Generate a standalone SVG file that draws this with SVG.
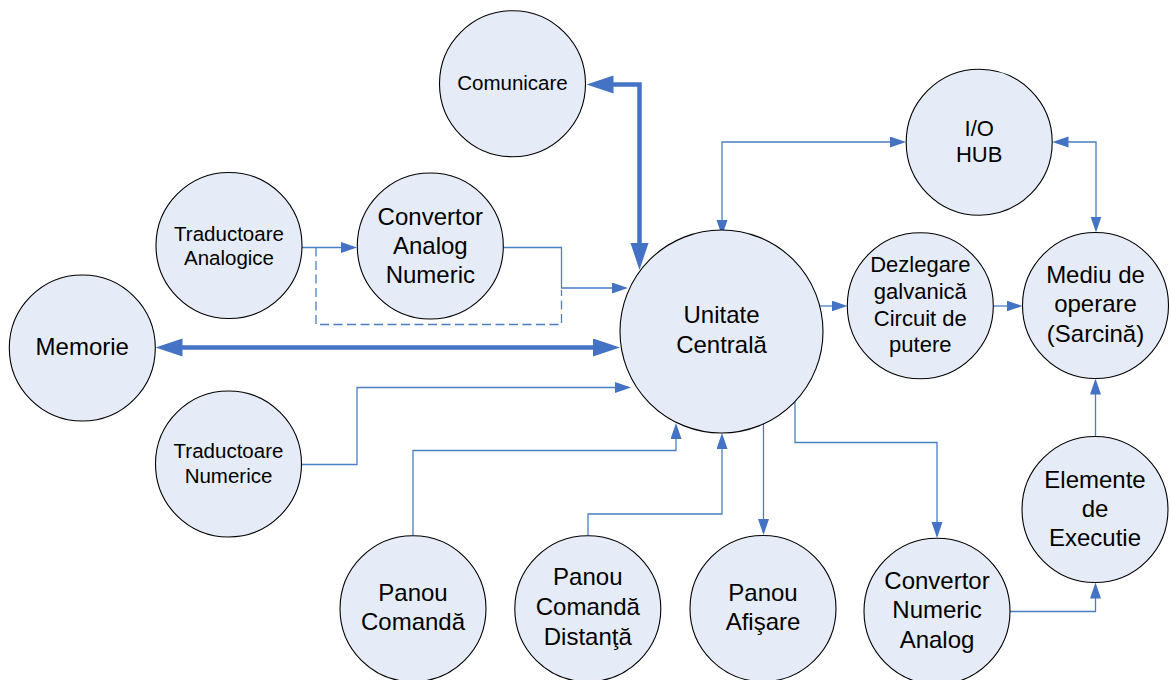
<svg xmlns="http://www.w3.org/2000/svg" width="1171" height="680" viewBox="0 0 1171 680">
  <style>
    .node circle { fill: #e6ecf7; stroke: #000; stroke-width: 1.1; }
    .node text { font-family: "Liberation Sans", Arial, sans-serif; fill: #000; text-anchor: middle; }
    .lg { font-size: 24px; }
    .md { font-size: 22px; }
    .sm { font-size: 20.5px; }
    .wire { fill: none; stroke: #4a7ec2; stroke-width: 1.3; }
    .thin { marker-end: url(#ah); }
    .both { marker-start: url(#ah); marker-end: url(#ah); }
    .bus { fill: none; stroke: #4472c4; stroke-width: 4.5; marker-start: url(#ahb); marker-end: url(#ahb); }
    .dash { stroke-dasharray: 9 4.5; }
  </style>
  <defs>
    <marker id="ah" markerUnits="userSpaceOnUse" markerWidth="16" markerHeight="12" refX="13" refY="5.5" orient="auto-start-reverse">
      <path d="M0,0 L16,5.5 L0,11 z" fill="#4472c4"/>
    </marker>
    <marker id="ahb" markerUnits="userSpaceOnUse" markerWidth="28" markerHeight="19" refX="17" refY="9" orient="auto-start-reverse">
      <path d="M0,0 L27,9 L0,18 z" fill="#4472c4"/>
    </marker>
  </defs>

  <rect width="1171" height="680" fill="#fff"/>

  <g id="connectors">
    <!-- data buses -->
    <path class="bus" d="M596.5,84.5 H639.5 V260"/>
    <path class="bus" d="M165.5,347.5 H610"/>
    <!-- signal lines -->
    <path class="wire thin" d="M302,247.5 H354"/>
    <path class="wire thin" d="M503.5,247.5 H561.5 V288 H625"/>
    <path class="wire dash" d="M316,247.5 V324.5 H561.5 V290"/>
    <path class="wire thin" d="M301.5,464.5 H357 V387.5 H628"/>
    <path class="wire thin" d="M413,535.5 V450.5 H676 V426"/>
    <path class="wire thin" d="M588,535.5 V514 H722 V436"/>
    <path class="wire thin" d="M763.5,424 V532"/>
    <path class="wire thin" d="M795,402 V442.5 H937 V535"/>
    <path class="wire thin" d="M1010,611.5 H1095.5 V585.5"/>
    <path class="wire thin" d="M1095.5,436.5 V381.5"/>
    <path class="wire thin" d="M993.5,306 H1019.5"/>
    <path class="wire thin" d="M820,306 H844.5"/>
    <path class="wire both" d="M722,233 V142 H903"/>
    <path class="wire both" d="M1055.5,142 H1096 V229.5"/>
  </g>

  <g id="comunicare" class="node">
    <circle cx="512.5" cy="83.7" r="73"/>
    <text class="sm" x="512.5" y="90">Comunicare</text>
  </g>
  <g id="traductoare-analogice" class="node">
    <circle cx="229" cy="245.5" r="73"/>
    <text class="sm" x="229" y="241">Traductoare</text>
    <text class="sm" x="229" y="265">Analogice</text>
  </g>
  <g id="convertor-an" class="node">
    <circle cx="430.3" cy="246" r="73"/>
    <text class="lg" x="430.3" y="225">Convertor</text>
    <text class="lg" x="430.3" y="254">Analog</text>
    <text class="lg" x="430.3" y="283">Numeric</text>
  </g>
  <g id="memorie" class="node">
    <circle cx="82.3" cy="348" r="73"/>
    <text class="lg" x="82.3" y="355">Memorie</text>
  </g>
  <g id="traductoare-numerice" class="node">
    <circle cx="228.5" cy="464" r="73"/>
    <text class="sm" x="228.5" y="458">Traductoare</text>
    <text class="sm" x="228.5" y="483">Numerice</text>
  </g>
  <g id="unitate-centrala" class="node">
    <circle cx="721.5" cy="331.5" r="101.5"/>
    <text class="lg" x="721.5" y="323">Unitate</text>
    <text class="lg" x="721.5" y="353">Centrală</text>
  </g>
  <g id="io-hub" class="node">
    <circle cx="979.2" cy="142.2" r="73"/>
    <text class="md" x="979.2" y="136">I/O</text>
    <text class="md" x="979.2" y="162">HUB</text>
  </g>
  <g id="dezlegare" class="node">
    <circle cx="920.3" cy="305.8" r="73"/>
    <text class="md" x="920.3" y="272">Dezlegare</text>
    <text class="md" x="920.3" y="298.5">galvanică</text>
    <text class="md" x="920.3" y="326">Circuit de</text>
    <text class="md" x="920.3" y="352">putere</text>
  </g>
  <g id="mediu-operare" class="node">
    <circle cx="1095.5" cy="305.5" r="73"/>
    <text class="lg" x="1095.5" y="283">Mediu de</text>
    <text class="lg" x="1095.5" y="312">operare</text>
    <text class="lg" x="1095.5" y="342">(Sarcină)</text>
  </g>
  <g id="elemente-executie" class="node">
    <circle cx="1095" cy="509.5" r="73"/>
    <text class="lg" x="1095" y="488">Elemente</text>
    <text class="lg" x="1095" y="517">de</text>
    <text class="lg" x="1095" y="546">Executie</text>
  </g>
  <g id="panou-comanda" class="node">
    <circle cx="413" cy="608.7" r="73"/>
    <text class="lg" x="413" y="601">Panou</text>
    <text class="lg" x="413" y="630">Comandă</text>
  </g>
  <g id="panou-comanda-distanta" class="node">
    <circle cx="587.8" cy="608.7" r="73"/>
    <text class="lg" x="587.8" y="585">Panou</text>
    <text class="lg" x="587.8" y="615">Comandă</text>
    <text class="lg" x="587.8" y="645">Distanţă</text>
  </g>
  <g id="panou-afisare" class="node">
    <circle cx="763" cy="608.5" r="73"/>
    <text class="lg" x="763" y="601">Panou</text>
    <text class="lg" x="763" y="630">Afişare</text>
  </g>
  <g id="convertor-na" class="node">
    <circle cx="937" cy="611.3" r="73"/>
    <text class="lg" x="937" y="589">Convertor</text>
    <text class="lg" x="937" y="618">Numeric</text>
    <text class="lg" x="937" y="648">Analog</text>
  </g>
</svg>
